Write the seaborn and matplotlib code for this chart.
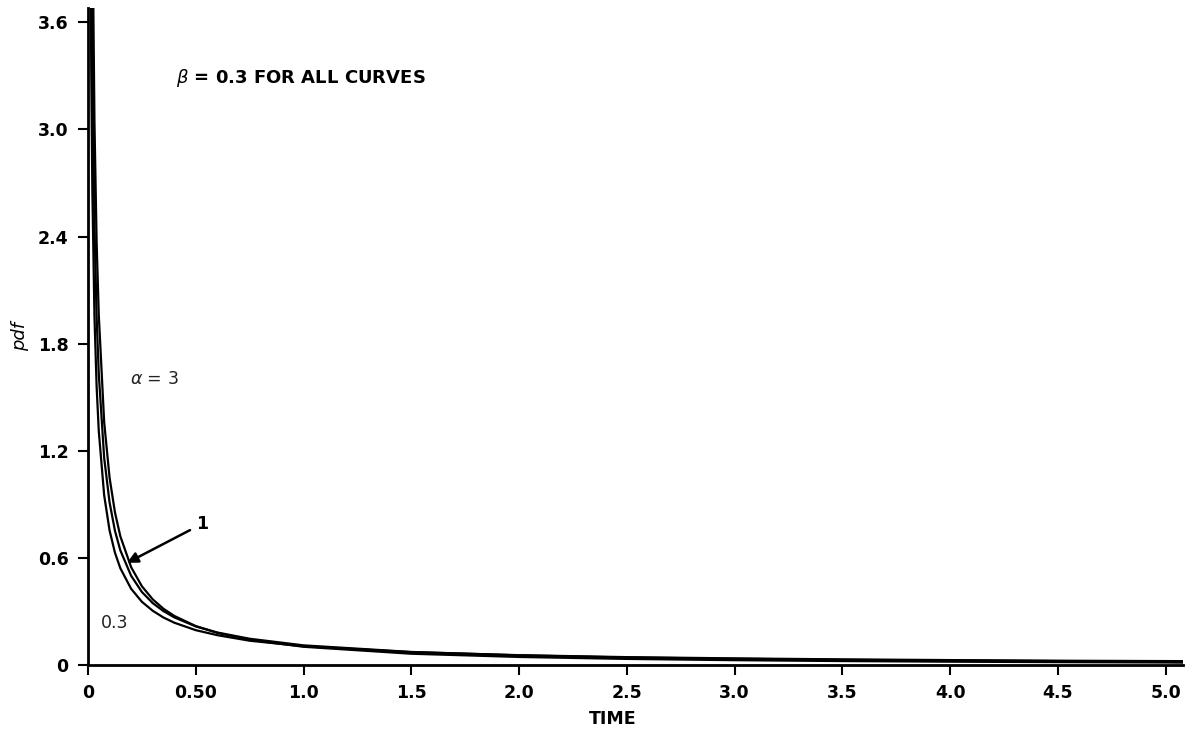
import numpy as np
import pandas as pd
import matplotlib
matplotlib.use("Agg")
import matplotlib.pyplot as plt
import seaborn as sns

# values (Weibull pdf, beta = 0.3)
time = [0.005, 0.01, 0.015, 0.02, 0.03, 0.04, 0.05, 0.075, 0.1, 0.125, 0.15, 0.2,
        0.25, 0.3, 0.35, 0.4, 0.5, 0.6, 0.75, 1.0, 1.5, 2.0, 2.5, 3.0, 3.5, 4.0,
        4.5, 5.0, 5.1]
pdf_a03 = [13.1, 7.54, 5.42, 4.27, 3.04, 2.37, 1.96, 1.36, 1.05, 0.855, 0.721, 0.548,
           0.441, 0.368, 0.315, 0.275, 0.218, 0.180, 0.141, 0.102, 0.063, 0.045, 0.034,
           0.027, 0.022, 0.0185, 0.016, 0.014, 0.013]
pdf_a1 = [9.98, 5.86, 4.27, 3.40, 2.46, 1.95, 1.63, 1.16, 0.911, 0.752, 0.642, 0.500,
          0.409, 0.347, 0.302, 0.267, 0.216, 0.182, 0.147, 0.110, 0.073, 0.054, 0.042,
          0.035, 0.029, 0.025, 0.022, 0.019, 0.0186]
pdf_a3 = [7.6, 4.52, 3.33, 2.67, 1.95, 1.56, 1.31, 0.951, 0.754, 0.629, 0.542, 0.427,
          0.354, 0.304, 0.266, 0.237, 0.195, 0.167, 0.136, 0.105, 0.072, 0.055, 0.044,
          0.037, 0.0315, 0.0275, 0.024, 0.022, 0.0215]
alphas = ["0.3", "1", "3"]

xticks = [0, 0.5, 1.0, 1.5, 2.0, 2.5, 3.0, 3.5, 4.0, 4.5, 5.0]
xticklabels = ["0", "0.50", "1.0", "1.5", "2.0", "2.5", "3.0", "3.5", "4.0", "4.5", "5.0"]
yticks = [0, 0.6, 1.2, 1.8, 2.4, 3.0, 3.6]
yticklabels = ["0", "0.6", "1.2", "1.8", "2.4", "3.0", "3.6"]

df = pd.DataFrame({
    "time": time * 3,
    "pdf": pdf_a03 + pdf_a1 + pdf_a3,
    "alpha": [a for a in alphas for _ in time],
})

sns.set_style("ticks")
plt.rcParams["font.family"] = ["DejaVu Sans"]
plt.rcParams["text.color"] = "black"

fig = plt.figure(figsize=(11.86, 7.31), dpi=100)
ax = fig.add_axes([0.0742, 0.0903, 0.9233, 0.8987])

sns.lineplot(data=df, x="time", y="pdf", hue="alpha",
             palette=["black", "black", "black"], linewidth=1.6,
             legend=False, ax=ax, sort=False)

ax.set_xlim(0, 5.08)
ax.set_ylim(0, 3.68)
ax.set_xticks(xticks)
ax.set_xticklabels(xticklabels, fontweight="bold", fontsize=12.5)
ax.set_yticks(yticks)
ax.set_yticklabels(yticklabels, fontweight="bold", fontsize=12.5)
ax.tick_params(direction="out", length=7, width=1.5, color="black",
               labelcolor="black", pad=7)

for side in ["top", "right"]:
    ax.spines[side].set_visible(False)
for side in ["left", "bottom"]:
    ax.spines[side].set_linewidth(2)
    ax.spines[side].set_color("black")

ax.set_xlabel("TIME", fontweight="bold", fontsize=12.5, color="black")
ax.xaxis.set_label_coords(0.479, -0.069)
ax.set_ylabel("pdf", fontstyle="italic", fontsize=13, labelpad=6, color="black")

ax.text(0.408, 3.29, r"$\beta$ = 0.3 FOR ALL CURVES", fontsize=13,
        fontweight="bold", va="center", ha="left")
ax.text(0.195, 1.60, r"$\alpha$ = 3", fontsize=12.5, va="center", ha="left", color="#222222")
ax.text(0.125, 0.236, "0.3", fontsize=12.5, va="center", ha="center", color="#222222")
ax.annotate("1", xy=(0.181, 0.572), xytext=(0.50, 0.79),
            fontsize=12.5, fontweight="bold", va="center", ha="left",
            arrowprops=dict(arrowstyle="-|>", color="black", lw=1.8,
                            shrinkA=2, shrinkB=0, mutation_scale=16))

fig.savefig("out.png", dpi=100)
